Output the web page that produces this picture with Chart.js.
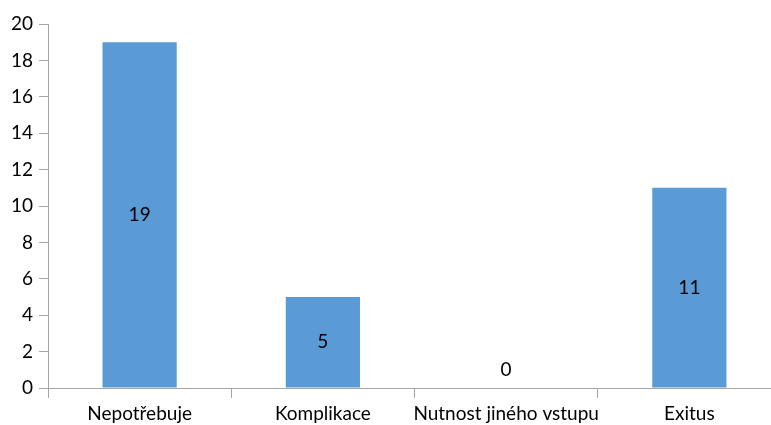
<!DOCTYPE html>
<html>
<head>
<meta charset="utf-8">
<script src="https://cdn.jsdelivr.net/npm/chart.js@4/dist/chart.umd.min.js"></script>
<style>
  html, body { margin: 0; padding: 0; background: #ffffff; }
  #wrap { width: 771px; height: 425px; overflow: hidden; position: relative; }
  #wrap canvas { display: block; }
</style>
</head>
<body>
<div id="wrap"><canvas id="c" width="800" height="425"></canvas></div>
<script>
const categories = ['Nepotřebuje', 'Komplikace', 'Nutnost jiného vstupu', 'Exitus'];
const counts = [19, 5, 0, 11];
const yTicks = [0, 2, 4, 6, 8, 10, 12, 14, 16, 18, 20];

const FONT = { family: 'Lato, "Open Sans", sans-serif', size: 19 };
const AXIS_GRAY = '#a6a6a6';

// Writes each value in the middle of its bar; an empty bar gets its label just above the axis.
const centerLabels = {
  id: 'centerLabels',
  afterDatasetsDraw(chart) {
    const ctx = chart.ctx;
    const meta = chart.getDatasetMeta(0);
    ctx.save();
    ctx.font = `${FONT.size}px ${FONT.family}`;
    ctx.fillStyle = '#000000';
    ctx.textAlign = 'center';
    ctx.textBaseline = 'middle';
    meta.data.forEach((bar, i) => {
      const v = chart.data.datasets[0].data[i];
      let y = (bar.y + bar.base) / 2;
      if (Math.abs(bar.base - bar.y) < FONT.size * 1.2) y = bar.base - 18;
      ctx.fillText(String(v), bar.x, y);
    });
    ctx.restore();
  }
};

new Chart(document.getElementById('c'), {
  type: 'bar',
  data: {
    labels: categories,
    datasets: [{
      data: counts,
      backgroundColor: '#5b9bd5',
      borderWidth: 0,
      categoryPercentage: 1,
      barPercentage: 0.405
    }]
  },
  options: {
    responsive: false,
    animation: false,
    layout: { padding: { left: 0, top: 24, right: 19, bottom: 0 } },
    plugins: { legend: { display: false }, tooltip: { enabled: false } },
    scales: {
      x: {
        offset: true,
        grid: { offset: true, drawOnChartArea: false, drawTicks: true, tickLength: 10, tickColor: AXIS_GRAY, lineWidth: 1 },
        border: { color: AXIS_GRAY, width: 1 },
        ticks: { font: FONT, color: '#000000', padding: 4, maxRotation: 0, autoSkip: false },
        afterFit(scale) { scale.height = 37; }
      },
      y: {
        min: 0,
        max: 20,
        afterBuildTicks(scale) { scale.ticks = yTicks.map(v => ({ value: v })); },
        grid: { drawOnChartArea: false, drawTicks: true, tickLength: 9, tickColor: AXIS_GRAY },
        border: { color: AXIS_GRAY, width: 1 },
        ticks: { font: FONT, color: '#000000', padding: 6 },
        afterFit(scale) { scale.width = 48; }
      }
    }
  },
  plugins: [centerLabels]
});
</script>
</body>
</html>
